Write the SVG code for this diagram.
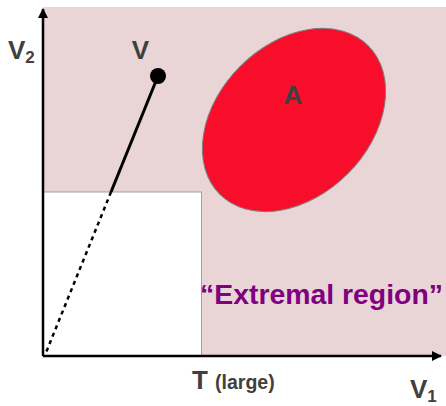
<svg xmlns="http://www.w3.org/2000/svg" width="446" height="406" viewBox="0 0 446 406">
<defs>
<marker id="arr" markerWidth="10" markerHeight="10" refX="9" refY="5" orient="auto" markerUnits="userSpaceOnUse"><path d="M0,0 L10,5 L0,10 Z" fill="#000"/></marker>
<style>
.lab{font-family:"Liberation Sans",Arial,sans-serif;font-weight:bold;fill:#404040}
</style>
</defs>
<rect width="446" height="406" fill="#fff"/>
<g id="extremal">
<rect x="43" y="7" width="403" height="349" fill="#ead5d6"/>
<rect x="43" y="192" width="158.5" height="164" fill="#fff" stroke="#a0a0a0" stroke-width="1"/>
</g>
<g id="A">
<ellipse cx="294" cy="120" rx="105" ry="76" transform="rotate(-45 294 120)" fill="#f80d2b" stroke="#808080" stroke-width="1"/>
<text class="lab" x="293" y="104" font-size="26" text-anchor="middle">A</text>
</g>
<g id="connectors" stroke="#000" fill="none">
<line x1="43" y1="356" x2="43" y2="9" stroke-width="2.5" marker-end="url(#arr)"/>
<line x1="43" y1="356" x2="441" y2="356" stroke-width="2.5" marker-end="url(#arr)"/>
<line x1="158" y1="76" x2="111" y2="192" stroke-width="3"/>
<line x1="111" y1="192" x2="45" y2="355" stroke-width="2.5" stroke-dasharray="4,4"/>
</g>
<g id="V">
<circle cx="158" cy="76" r="8" fill="#000"/>
<text class="lab" x="140.5" y="59" font-size="26" text-anchor="middle">V</text>
</g>
<g id="labels">
<text class="lab" x="8" y="59" font-size="26">V<tspan font-size="17" dy="4">2</tspan></text>
<text class="lab" x="410" y="398" font-size="26">V<tspan font-size="17" dy="4">1</tspan></text>
<text class="lab" x="192" y="389" font-size="26">T <tspan font-size="19.5">(large)</tspan></text>
<text x="200" y="304" font-size="27" textLength="243" lengthAdjust="spacingAndGlyphs" font-family="Liberation Sans,Arial,sans-serif" font-weight="bold" fill="#800080">“Extremal region”</text>
</g>
</svg>
